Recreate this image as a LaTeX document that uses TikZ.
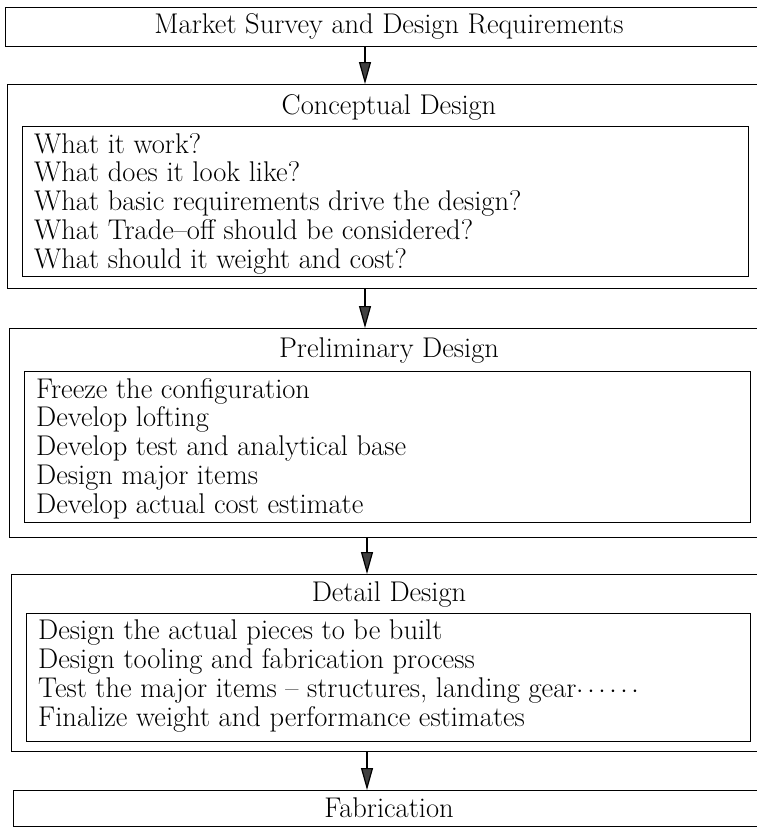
\documentclass[tikz,border=0pt]{standalone}
\usepackage{fontspec}
\usetikzlibrary{arrows.meta}
\begin{document}
\begin{tikzpicture}[x=1pt,y=-1pt,
  outerbox/.style={draw, line width=1.2pt, rectangle, inner sep=0pt, anchor=north west, minimum width=800pt},
  innerbox/.style={draw, line width=1.2pt, rectangle, inner sep=0pt, anchor=north west},
  ttl/.style={font=\fontsize{28.5}{28.75}\selectfont, inner sep=0pt, anchor=center},
  lst/.style={font=\fontsize{28.5}{28.75}\selectfont, inner sep=0pt, align=left, anchor=north west},
  arr/.style={line width=1.2pt, -{Triangle[length=22pt,width=12pt,fill=black!75]}}
]
\useasboundingbox (0,0) rectangle (757,830);
\clip (0,0) rectangle (757,830);

% Box 1
\node[outerbox, minimum height=39pt] (b1) at (5,7) {};
\node[ttl] (t1) at (389,26) {Market Survey and Design Requirements};

% Box 2
\node[outerbox, minimum height=204pt] (b2) at (7,84) {};
\node[ttl] (t2) at (389,107) {Conceptual Design};
\node[innerbox, minimum width=726pt, minimum height=150pt] (i2) at (22,126) {};
\node[lst] (l2) at (34,133) {What it work?\\What does it look like?\\What basic requirements drive the design?\\What Trade--off should be considered?\\What should it weight and cost?};

% Box 3
\node[outerbox, minimum height=209pt] (b3) at (9,328) {};
\node[ttl] (t3) at (389,351) {Preliminary Design};
\node[innerbox, minimum width=726pt, minimum height=151pt] (i3) at (24,371) {};
\node[lst] (l3) at (36,378) {Freeze the configuration\\Develop lofting\\Develop test and analytical base\\Design major items\\Develop actual cost estimate};

% Box 4
\node[outerbox, minimum height=177pt] (b4) at (11,574) {};
\node[ttl] (t4) at (389,595) {Detail Design};
\node[innerbox, minimum width=724pt, minimum height=128pt] (i4) at (26,613) {};
\node[lst] (l4) at (38,620) {Design the actual pieces to be built\\Design tooling and fabrication process\\Test the major items -- structures, landing gear$\cdots\cdots$\\Finalize weight and performance estimates};

% Box 5
\node[outerbox, minimum height=36pt] (b5) at (13,790) {};
\node[ttl] (t5) at (389,808) {Fabrication};

% arrows
\coordinate (ca) at (365,0);
\coordinate (cb) at (367,0);
\draw[arr] (b1.south -| ca) -- (b2.north -| ca);
\draw[arr] (b2.south -| ca) -- (b3.north -| ca);
\draw[arr] (b3.south -| cb) -- (b4.north -| cb);
\draw[arr] (b4.south -| cb) -- (b5.north -| cb);
\end{tikzpicture}
\end{document}
